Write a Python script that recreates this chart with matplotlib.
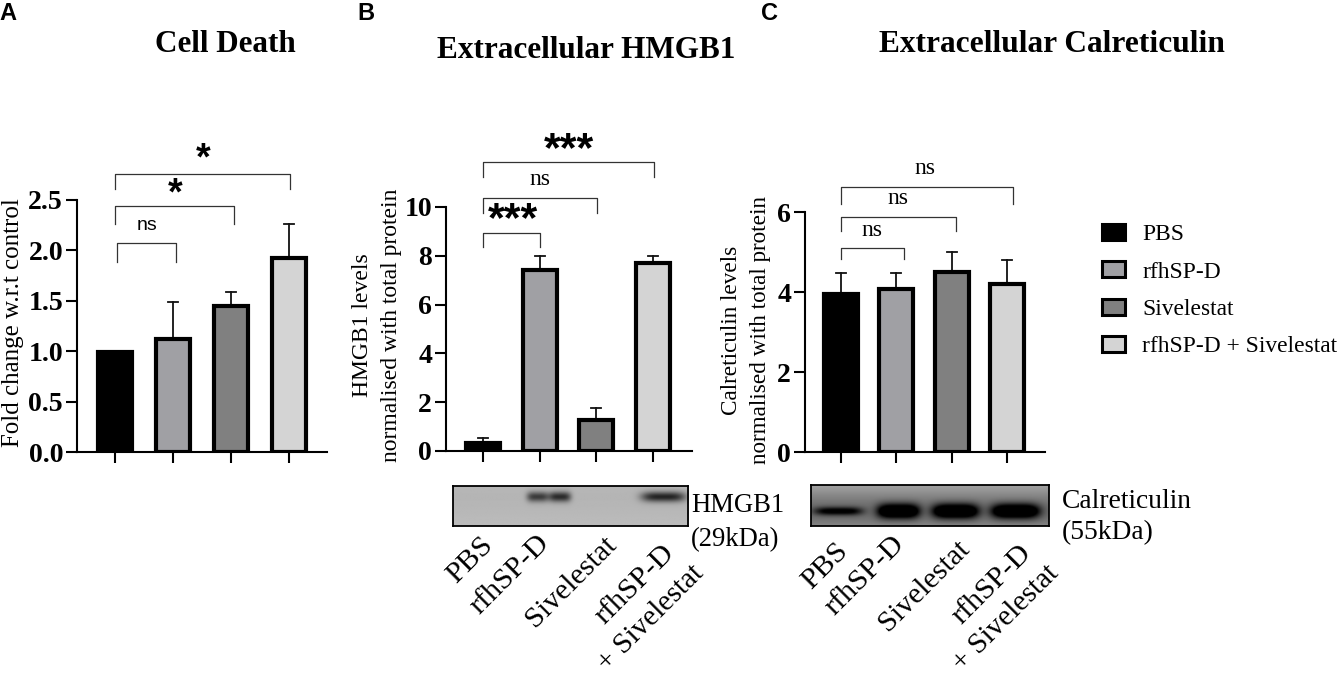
import numpy as np
import matplotlib
matplotlib.use("Agg")
import matplotlib.pyplot as plt
from matplotlib.patches import Patch

W, H = 1338, 679
SERIF = "Liberation Serif"
SANS = "Liberation Sans"

groups = ["PBS", "rfhSP-D", "Sivelestat", "rfhSP-D + Sivelestat"]
colors = ["#000000", "#a0a0a4", "#808080", "#d4d4d4"]

# values
death_vals = [0.99, 1.12, 1.45, 1.92]
death_tops = [0.99, 1.49, 1.59, 2.26]
death_ticks = ["0.0", "0.5", "1.0", "1.5", "2.0", "2.5"]

hmgb_vals = [0.33, 7.42, 1.28, 7.72]
hmgb_tops = [0.52, 8.00, 1.75, 8.00]
hmgb_ticks = ["0", "2", "4", "6", "8", "10"]

calr_vals = [3.96, 4.07, 4.50, 4.19]
calr_tops = [4.48, 4.48, 5.00, 4.80]
calr_ticks = ["0", "2", "4", "6"]

# brackets: x start, x end, y top, y bottom (data units)
death_br = [(0.03, 1.05, 2.07, 1.885), (0, 2.05, 2.44, 2.26), (0, 3.02, 2.76, 2.61)]
hmgb_br = [(0, 1.0, 8.93, 8.35), (0, 2.02, 10.37, 9.75), (0, 3.02, 11.84, 11.23)]
calr_br = [(0, 1.13, 5.10, 4.82), (0, 2.08, 5.875, 5.52), (0, 3.1, 6.625, 6.2)]

# blots: lane centre, half width, darkness, half height (px inside blot)
hmgb_bands = [(84, 11, 0.60, 5), (106, 11, 0.68, 5), (209, 22, 0.72, 5)]
calr_bands = [(27, 24, 0.62, 4), (87, 21, 1.0, 7), (144, 23, 1.0, 7), (204, 24, 1.0, 7)]

fig = plt.figure(figsize=(W / 100, H / 100), dpi=100)


def fx(px):
    return px / W


def fy(py):
    return 1 - py / H


def put(px, py, s, **kw):
    kw.setdefault("family", SERIF)
    fig.text(fx(px), fy(py), s, **kw)


def panel(left, right, top, bottom, c0, c3, ymax, vals, tops, ticks, brackets):
    ax = fig.add_axes([fx(left), fy(bottom), fx(right - left), (bottom - top) / H])
    step = (c3 - c0) / 3
    ax.set_xlim((left - c0) / step, (right - c0) / step)
    ax.set_ylim(0, ymax)
    x = np.arange(4)
    ax.bar(x, vals, width=34 / step, color=colors, edgecolor="black", linewidth=3.0, zorder=3)
    for i in x:
        if tops[i] > vals[i]:
            ax.plot([i, i], [vals[i], tops[i]], color="#111111", lw=1.3, zorder=2)
            ax.plot([i - 5 / step, i + 5 / step], [tops[i], tops[i]], color="#111111", lw=1.3, zorder=2)
    for s in ["top", "right"]:
        ax.spines[s].set_visible(False)
    for s in ["left", "bottom"]:
        ax.spines[s].set_linewidth(1.5)
    ax.set_xticks(x)
    ax.set_xticklabels([])
    ax.set_yticks(np.linspace(0, ymax, len(ticks)))
    ax.set_yticklabels(ticks, family=SERIF, fontweight="bold", fontsize=20)
    ax.tick_params(length=8, width=1.5, pad=2)
    for x0, x1, yt, yb in brackets:
        ax.plot([x0, x0, x1, x1], [yb, yt, yt, yb], color="#333333", lw=0.9, clip_on=False)
    return ax


ax_a = panel(77, 327, 200, 452, 115, 289, 2.5, death_vals, death_tops, death_ticks, death_br)
ax_b = panel(446, 692, 207, 451, 483, 653, 10, hmgb_vals, hmgb_tops, hmgb_ticks, hmgb_br)
ax_c = panel(805, 1045, 212, 452, 841, 1007, 6, calr_vals, calr_tops, calr_ticks, calr_br)


def blot(left, right, top, bottom, bands, band_y, base, haze):
    w = right - left
    h = bottom - top
    xx, yy = np.meshgrid(np.arange(w), np.arange(h))
    img = np.full((h, w), base, dtype=float)
    img -= haze * np.exp(-((yy - band_y) / (h * 0.55)) ** 2)
    for cx, sx, dark, sy in bands:
        img -= dark * 0.8 * np.exp(-((xx - cx) / sx) ** 4 - ((yy - band_y) / sy) ** 2)
    ax = fig.add_axes([fx(left), fy(bottom), fx(w), h / H])
    ax.imshow(np.clip(img, 0, 1), cmap="gray", vmin=0, vmax=1, aspect="auto", interpolation="bilinear")
    ax.set_xticks([])
    ax.set_yticks([])
    for s in ax.spines.values():
        s.set_linewidth(1.3)


blot(453, 688, 486, 526, hmgb_bands, 11, 0.74, 0.03)
blot(811, 1049, 485, 526, calr_bands, 26, 0.72, 0.30)

# titles and panel letters
put(225, 45, "Cell Death", fontsize=22.4, fontweight="bold", ha="center", va="center")
put(586, 50, "Extracellular HMGB1", fontsize=22.5, fontweight="bold", ha="center", va="center")
put(1052, 45, "Extracellular Calreticulin", fontsize=22.6, fontweight="bold", ha="center", va="center")
for px, s in [(8, "A"), (366, "B"), (769, "C")]:
    put(px, 13, s, family=SANS, fontsize=17, fontweight="bold", ha="center", va="center")

# y labels
put(13, 323, "Fold change w.r.t control", fontsize=17.9, rotation=90, ha="center", va="center")
put(377, 325, "HMGB1 levels\nnormalised with total protein", fontsize=17, rotation=90,
    ha="center", va="center", multialignment="center", linespacing=1.55)
put(746, 330, "Calreticulin levels\nnormalised with total protein", fontsize=16.7, rotation=90,
    ha="center", va="center", multialignment="center", linespacing=1.48)

# significance marks
for px, py, s, fam, size in [
    (147, 226, "ns", SANS, 14),
    (175, 194, "*", SANS, 27),
    (203, 159, "*", SANS, 27),
    (513, 220, "***", SANS, 31),
    (540, 180, "ns", SERIF, 17),
    (569, 150, "***", SANS, 31),
    (872, 230, "ns", SERIF, 17),
    (898, 198, "ns", SERIF, 17),
    (925, 169, "ns", SERIF, 17),
]:
    weight = "bold" if "*" in s else "normal"
    put(px, py, s, family=fam, fontsize=size, fontweight=weight, ha="center", va="center")

# lane labels under blots
for px, py, s, size in [
    (480, 532, "PBS", 21.6),
    (536, 530, "rfhSP-D", 21.6),
    (603, 531, "Sivelestat", 21.6),
    (661, 540, "rfhSP-D", 21.6),
    (691, 560, "+ Sivelestat", 21.2),
    (835, 538, "PBS", 21.6),
    (891, 531, "rfhSP-D", 21.6),
    (956, 535, "Sivelestat", 21.6),
    (1018, 540, "rfhSP-D", 21.6),
    (1046, 560, "+ Sivelestat", 21.2),
]:
    put(px, py, s, fontsize=size, rotation=45, ha="right", va="top", rotation_mode="anchor")

put(691, 505, "HMGB1", fontsize=19.2, ha="left", va="center")
put(691, 540, "(29kDa)", fontsize=19.2, ha="left", va="center")
put(1062, 501, "Calreticulin", fontsize=19.8, ha="left", va="center")
put(1062, 533, "(55kDa)", fontsize=19.8, ha="left", va="center")

handles = [Patch(facecolor=c, edgecolor="black", linewidth=2.2) for c in colors]
fig.legend(handles, groups, loc="upper left", bbox_to_anchor=(fx(1102), fy(224)),
           frameon=False, prop={"family": SERIF, "size": 16.9}, borderpad=0, borderaxespad=0,
           handlelength=1.0, handleheight=0.68, handletextpad=0.72, labelspacing=0.68)

fig.savefig("out.png", dpi=100)
